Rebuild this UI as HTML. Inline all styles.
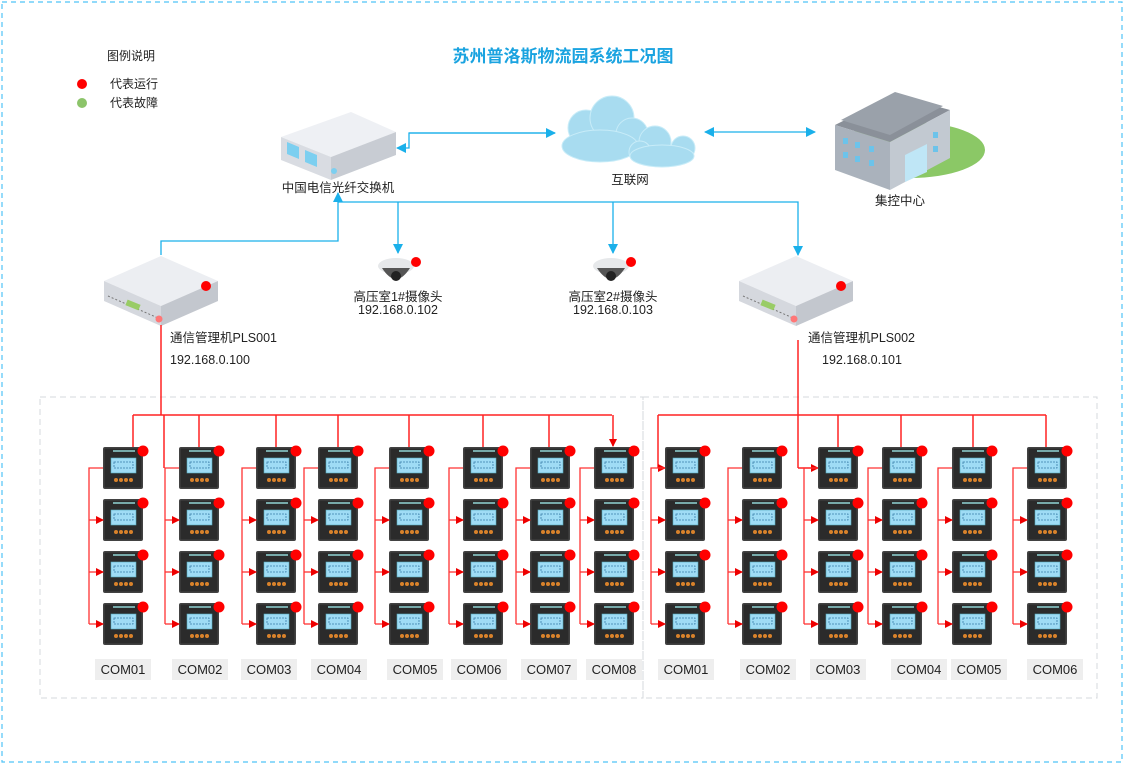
<!DOCTYPE html>
<html><head><meta charset="utf-8"><style>
html,body{margin:0;padding:0;background:#fff}
svg{display:block}
text{font-family:"Liberation Sans","Noto Sans CJK SC",sans-serif;fill:#222}
</style></head><body>
<svg width="1125" height="765" viewBox="0 0 1125 765" xmlns="http://www.w3.org/2000/svg">
<defs>
<marker id="ar" markerWidth="8" markerHeight="8" refX="7" refY="4" orient="auto" markerUnits="userSpaceOnUse"><path d="M0,0 L8,4 L0,8 z" fill="#e00"/></marker>
<marker id="ab" markerWidth="10" markerHeight="10" refX="9" refY="5" orient="auto" markerUnits="userSpaceOnUse"><path d="M0,0 L10,5 L0,10 z" fill="#1ab0ea"/></marker>
<g id="m">
<rect x="0" y="0" width="40" height="42" rx="2" fill="#3a3a3a"/>
<rect x="1" y="1" width="38" height="40" fill="#2b2b2b" stroke="#555" stroke-width="0.6"/>
<rect x="10" y="3" width="22" height="2" fill="#7aa"/>
<rect x="8" y="11" width="25" height="15" fill="#9fdcf5" stroke="#5ab" stroke-width="0.6"/>
<rect x="11" y="15" width="19" height="6" fill="none" stroke="#3a7ea8" stroke-width="0.8" stroke-dasharray="2,1"/>
<circle cx="13" cy="33" r="2" fill="#d9822b"/><circle cx="18" cy="33" r="2" fill="#d9822b"/><circle cx="23" cy="33" r="2" fill="#d9822b"/><circle cx="28" cy="33" r="2" fill="#d9822b"/>
<circle cx="40" cy="4" r="5.5" fill="#f00"/>
</g>
<g id="col">
<use href="#m" x="0" y="0"/><use href="#m" x="0" y="52"/><use href="#m" x="0" y="104"/><use href="#m" x="0" y="156"/>
<polyline points="0,21 -14,21 -14,177" fill="none" stroke="#f33" stroke-width="1.3"/>
<line x1="-14" y1="73" x2="0" y2="73" stroke="#f33" stroke-width="1.3" marker-end="url(#ar)"/>
<line x1="-14" y1="125" x2="0" y2="125" stroke="#f33" stroke-width="1.3" marker-end="url(#ar)"/>
<line x1="-14" y1="177" x2="0" y2="177" stroke="#f33" stroke-width="1.3" marker-end="url(#ar)"/>
</g>
<g id="box">
<polygon points="0,25 57,0 114,25 57,50" fill="#eceef2"/>
<polygon points="0,25 57,50 57,70 0,45" fill="#d5d8de"/>
<polygon points="57,50 114,25 114,45 57,70" fill="#c3c7ce"/>
</g>
</defs>

<rect x="2" y="2" width="1120" height="760" fill="none" stroke="#4fc3f7" stroke-width="1.2" stroke-dasharray="5,4"/>
<rect x="40" y="397" width="603" height="301" fill="none" stroke="#d5d8dc" stroke-dasharray="6,4"/>
<rect x="643" y="397" width="454" height="301" fill="none" stroke="#d5d8dc" stroke-dasharray="6,4"/>

<text x="563" y="62" text-anchor="middle" font-size="17" font-weight="bold" style="fill:#1aa3e0">苏州普洛斯物流园系统工况图</text>
<text x="107" y="60" font-size="12">图例说明</text>
<circle cx="82" cy="84" r="5" fill="#f00"/><text x="110" y="88" font-size="12">代表运行</text>
<circle cx="82" cy="103" r="5" fill="#8cc46a"/><text x="110" y="107" font-size="12">代表故障</text>

<g transform="translate(281,112)">
<polygon points="0,25 70,0 115,20 50,45" fill="#eef0f4"/>
<polygon points="0,25 50,45 50,68 0,48" fill="#d9dce2"/>
<polygon points="50,45 115,20 115,43 50,68" fill="#c8ccd3"/>
<polygon points="6,30 18,35 18,47 6,42" fill="#7ccff0"/>
<polygon points="24,38 36,43 36,55 24,50" fill="#7ccff0"/>
<circle cx="53" cy="59" r="3" fill="#7ccff0"/>
</g>
<text x="338" y="192" text-anchor="middle" font-size="12.5">中国电信光纤交换机</text>

<g fill="#a8dcf0" stroke="#c8ecf8" stroke-width="1">
<circle cx="586" cy="128" r="18"/><circle cx="612" cy="118" r="22"/><circle cx="632" cy="134" r="16"/>
<ellipse cx="600" cy="146" rx="38" ry="16"/>
<circle cx="655" cy="142" r="16"/><circle cx="640" cy="152" r="11"/><circle cx="683" cy="148" r="12"/>
<ellipse cx="662" cy="156" rx="32" ry="11"/>
</g>
<text x="630" y="184" text-anchor="middle" font-size="12.5">互联网</text>

<g transform="translate(815,80)">
<ellipse cx="95" cy="70" rx="75" ry="28" fill="#8bc866"/>
<polygon points="20,45 80,15 135,30 75,62" fill="#8a9099"/>
<polygon points="20,45 75,62 75,110 20,90" fill="#aab2bc"/>
<polygon points="75,62 135,30 135,78 75,110" fill="#c2c9d1"/>
<polygon points="26,40 80,12 128,26 75,55" fill="#9aa1aa"/>
<polygon points="90,75 112,64 112,92 90,102" fill="#bfe6f6"/>
<g fill="#6cc3ea"><rect x="28" y="58" width="5" height="6"/><rect x="40" y="62" width="5" height="6"/><rect x="54" y="66" width="5" height="6"/><rect x="28" y="72" width="5" height="6"/><rect x="40" y="76" width="5" height="6"/><rect x="54" y="80" width="5" height="6"/><rect x="118" y="52" width="5" height="6"/><rect x="118" y="66" width="5" height="6"/></g>
</g>
<text x="900" y="205" text-anchor="middle" font-size="12.5">集控中心</text>

<g stroke="#1ab0ea" stroke-width="1.3" fill="none">
<polyline points="555,133 409,133 409,148 397,148" marker-end="url(#ab)"/>
<line x1="409" y1="133" x2="555" y2="133" marker-end="url(#ab)"/>
<line x1="760" y1="132" x2="705" y2="132" marker-end="url(#ab)"/>
<line x1="760" y1="132" x2="815" y2="132" marker-end="url(#ab)"/>
<polyline points="161,255 161,241 338,241 338,193" marker-end="url(#ab)"/>
<polyline points="338,202 798,202 798,255" marker-end="url(#ab)"/>
<line x1="398" y1="202" x2="398" y2="253" marker-end="url(#ab)"/>
<line x1="613" y1="202" x2="613" y2="253" marker-end="url(#ab)"/>
</g>

<g transform="translate(378,258)">
<ellipse cx="18" cy="8" rx="18" ry="8" fill="#e6e8ea"/><path d="M4,10 Q18,32 32,10 z" fill="#555"/><circle cx="18" cy="18" r="5" fill="#222"/>
<circle cx="38" cy="4" r="5" fill="#f00"/></g>
<text x="398" y="301" text-anchor="middle" font-size="12.5">高压室1#摄像头</text>
<text x="398" y="314" text-anchor="middle" font-size="12.5">192.168.0.102</text>
<g transform="translate(593,258)">
<ellipse cx="18" cy="8" rx="18" ry="8" fill="#e6e8ea"/><path d="M4,10 Q18,32 32,10 z" fill="#555"/><circle cx="18" cy="18" r="5" fill="#222"/>
<circle cx="38" cy="4" r="5" fill="#f00"/></g>
<text x="613" y="301" text-anchor="middle" font-size="12.5">高压室2#摄像头</text>
<text x="613" y="314" text-anchor="middle" font-size="12.5">192.168.0.103</text>

<g transform="translate(104,256)"><use href="#box"/><line x1="4" y1="40" x2="54" y2="62" stroke="#777" stroke-dasharray="2,2"/><rect x="22" y="46" width="14" height="6" fill="#9c6" transform="rotate(22 29 49)"/><circle cx="55" cy="63" r="3.5" fill="#f77"/><circle cx="102" cy="30" r="5" fill="#f00"/></g>
<text x="170" y="342" font-size="12.5">通信管理机PLS001</text>
<text x="170" y="364" font-size="12.5">192.168.0.100</text>
<g transform="translate(739,256)"><use href="#box"/><line x1="4" y1="40" x2="54" y2="62" stroke="#777" stroke-dasharray="2,2"/><rect x="22" y="46" width="14" height="6" fill="#9c6" transform="rotate(22 29 49)"/><circle cx="55" cy="63" r="3.5" fill="#f77"/><circle cx="102" cy="30" r="5" fill="#f00"/></g>
<text x="808" y="342" font-size="12.5">通信管理机PLS002</text>
<text x="822" y="364" font-size="12.5">192.168.0.101</text>

<g stroke="#f22" stroke-width="1.5" fill="none">
<polyline points="161,325 161,415"/>
<line x1="133" y1="415" x2="612" y2="415"/>
<polyline points="133,415 133,447"/>
<line x1="199" y1="415" x2="199" y2="447"/>
<line x1="276" y1="415" x2="276" y2="447"/>
<line x1="338" y1="415" x2="338" y2="447"/>
<line x1="409" y1="415" x2="409" y2="447"/>
<line x1="483" y1="415" x2="483" y2="447"/>
<line x1="549" y1="415" x2="549" y2="447"/>
<line x1="613" y1="415" x2="613" y2="446" marker-end="url(#ar)"/>
<polyline points="798,340 798,415"/>
<line x1="658" y1="415" x2="1046" y2="415"/>
<line x1="838" y1="415" x2="838" y2="447"/>
<line x1="901" y1="415" x2="901" y2="447"/>
<line x1="973" y1="415" x2="973" y2="447"/>
<line x1="1046" y1="415" x2="1046" y2="447"/>
<line x1="658" y1="415" x2="658" y2="468"/>
<line x1="658" y1="468" x2="665" y2="468" marker-end="url(#ar)"/>
<line x1="798" y1="415" x2="798" y2="468"/>
<line x1="798" y1="468" x2="818" y2="468" marker-end="url(#ar)"/>
<line x1="164" y1="415" x2="164" y2="468"/>
</g>

<use href="#col" x="103" y="447"/><use href="#col" x="179" y="447"/><use href="#col" x="256" y="447"/><use href="#col" x="318" y="447"/>
<use href="#col" x="389" y="447"/><use href="#col" x="463" y="447"/><use href="#col" x="530" y="447"/><use href="#col" x="594" y="447"/>
<use href="#col" x="665" y="447"/><use href="#col" x="742" y="447"/><use href="#col" x="818" y="447"/><use href="#col" x="882" y="447"/>
<use href="#col" x="952" y="447"/><use href="#col" x="1027" y="447"/>

<g font-size="13">
<g fill="#eeeeee">
<rect x="95" y="659" width="56" height="21"/><rect x="172" y="659" width="56" height="21"/><rect x="241" y="659" width="56" height="21"/><rect x="311" y="659" width="56" height="21"/>
<rect x="387" y="659" width="56" height="21"/><rect x="451" y="659" width="56" height="21"/><rect x="521" y="659" width="56" height="21"/><rect x="586" y="659" width="56" height="21"/>
<rect x="658" y="659" width="56" height="21"/><rect x="740" y="659" width="56" height="21"/><rect x="810" y="659" width="56" height="21"/><rect x="891" y="659" width="56" height="21"/>
<rect x="951" y="659" width="56" height="21"/><rect x="1027" y="659" width="56" height="21"/>
</g>
<text x="123" y="674" text-anchor="middle">COM01</text><text x="200" y="674" text-anchor="middle">COM02</text><text x="269" y="674" text-anchor="middle">COM03</text><text x="339" y="674" text-anchor="middle">COM04</text>
<text x="415" y="674" text-anchor="middle">COM05</text><text x="479" y="674" text-anchor="middle">COM06</text><text x="549" y="674" text-anchor="middle">COM07</text><text x="614" y="674" text-anchor="middle">COM08</text>
<text x="686" y="674" text-anchor="middle">COM01</text><text x="768" y="674" text-anchor="middle">COM02</text><text x="838" y="674" text-anchor="middle">COM03</text><text x="919" y="674" text-anchor="middle">COM04</text>
<text x="979" y="674" text-anchor="middle">COM05</text><text x="1055" y="674" text-anchor="middle">COM06</text>
</g>
</svg>
</body></html>
